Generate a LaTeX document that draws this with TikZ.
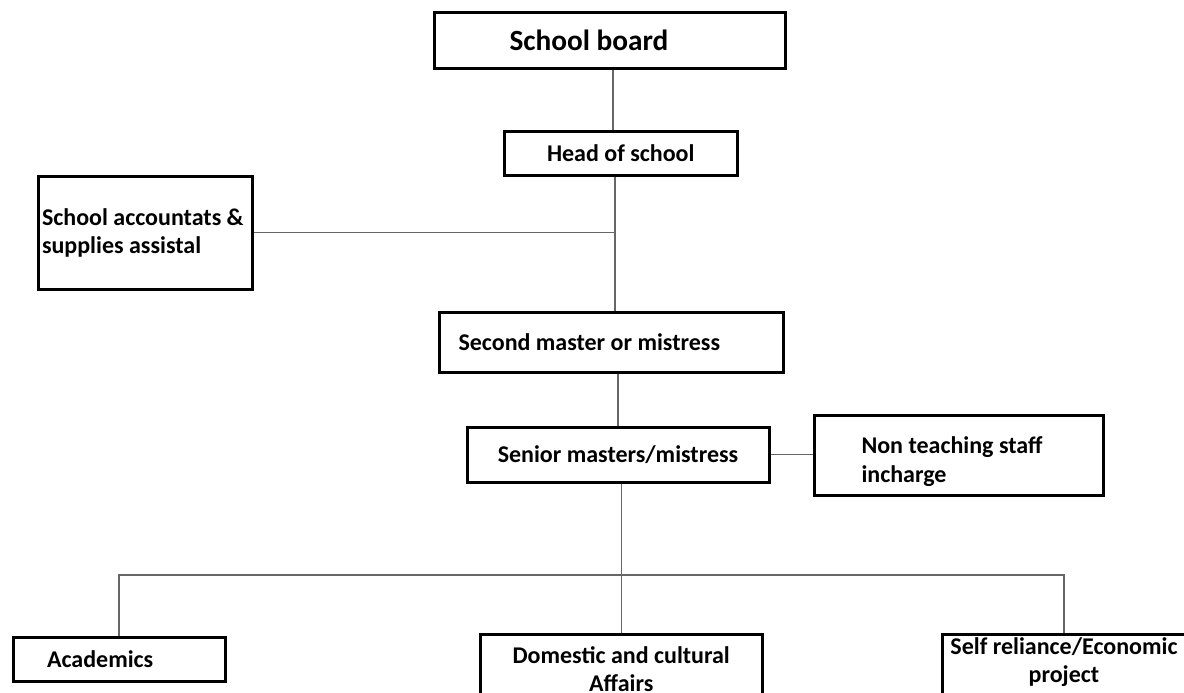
\documentclass[tikz,border=0pt]{standalone}
\usepackage{fontspec}
\setmainfont{Carlito}
\usetikzlibrary{positioning,calc}

\tikzset{
  orgbox/.style={draw, line width=3pt, inner ysep=0pt, font=\bfseries\fontsize{24}{28.5}\selectfont},
  link/.style={draw=black!60, line width=1.3pt}
}

\begin{document}
\begin{tikzpicture}[x=1pt, y=-1pt]
    \useasboundingbox (0,0) rectangle (1184,693);

    % boxes of the chart
    \node[orgbox, minimum width=351pt, minimum height=56.5pt, inner xsep=75pt, text width=201pt, align=flush left,
          font=\bfseries\fontsize{29.3}{33}\selectfont] (board) at (610,40.75) {School board};
    \node[orgbox, minimum width=232.5pt, minimum height=44.5pt, align=center] (head) at (620.75,153.25) {Head of school};
    \node[orgbox, minimum width=214pt, minimum height=113.5pt, inner xsep=4pt, text width=206pt, align=flush left] (acc) at (145,232.75)
        {School accountats \&\\supplies assistal};
    \node[orgbox, minimum width=343.5pt, minimum height=60pt, inner xsep=19pt, text width=305.5pt, align=flush left] (second) at (611.25,342)
        {Second master or mistress};
    \node[orgbox, minimum width=302pt, minimum height=54.5pt, align=center] (senior) at (618,454.75) {Senior masters/mistress};
    \node[orgbox, minimum width=288.5pt, minimum height=79.5pt, inner xsep=47pt, text width=194.5pt, align=flush left,
          text height=30pt, text depth=33.5pt] (staff) at (958.75,455.25)
        {Non teaching staff\\incharge};
    \node[orgbox, minimum width=212pt, minimum height=44pt, inner xsep=34pt, text width=144pt, align=flush left] (acad) at (119,659.5) {Academics};
    \node[orgbox, minimum width=281.5pt, anchor=north, inner ysep=12pt, text depth=45pt, align=center] (domestic) at (621.25,633)
        {Domestic and cultural\\Affairs};
    \node[orgbox, minimum width=244pt, anchor=north, inner ysep=3pt, text depth=45pt, align=center] (project) at (1064,633)
        {Self reliance/Economic\\project};

    % connectors
    \coordinate (hq) at ([xshift=-5.75pt]head.south);
    \coordinate (bus) at (domestic.north |- 0,575);
    \draw[link] ([xshift=3pt]board.south) -- ([xshift=3pt]board.south |- head.north);
    \draw[link] (hq) -- (hq |- second.north);
    \draw[link] (acc.east) -- (acc.east -| hq);
    \draw[link] (senior.north) -- (senior.north |- second.south);
    \draw[link] (senior.east) -- (staff.west |- senior.east);
    \draw[link] (domestic.north) -- (domestic.north |- senior.south);
    \draw[link] (acad.north) |- (bus) -| (project.north);
\end{tikzpicture}
\end{document}
